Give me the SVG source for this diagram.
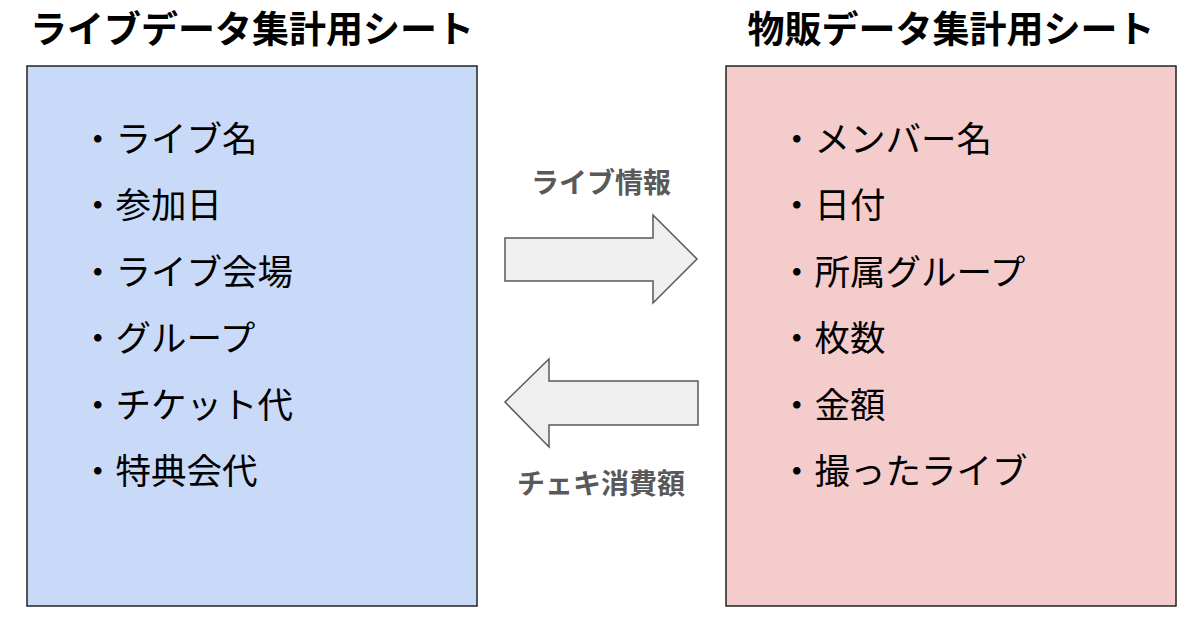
<svg xmlns="http://www.w3.org/2000/svg" width="1200" height="625" viewBox="0 0 1200 625">
<style>
.title{font-family:"Noto Sans CJK JP","Noto Sans",sans-serif;font-weight:bold;font-size:37px;fill:#000;text-anchor:middle}
.item{font-family:"Noto Sans CJK JP","Noto Sans",sans-serif;font-size:35.5px;fill:#000}
.lbl{font-family:"Noto Sans CJK JP","Noto Sans",sans-serif;font-weight:bold;font-size:28px;fill:#595959;text-anchor:middle}
.arrow{fill:#efefef;stroke:#595959;stroke-width:1.5}
</style>
<rect width="1200" height="625" fill="#fff"/>
<g id="live-sheet">
<text class="title" x="252" y="43">ライブデータ集計用シート</text>
<rect x="27" y="66" width="450" height="540" fill="#c9daf8" stroke="#222" stroke-width="1.5"/>
<text class="item" x="80" y="152">・ライブ名</text>
<text class="item" x="80" y="218">・参加日</text>
<text class="item" x="80" y="285">・ライブ会場</text>
<text class="item" x="80" y="351">・グループ</text>
<text class="item" x="80" y="418">・チケット代</text>
<text class="item" x="80" y="484">・特典会代</text>
</g>
<g id="goods-sheet">
<text class="title" x="951" y="43">物販データ集計用シート</text>
<rect x="726" y="66" width="450" height="540" fill="#f4cccc" stroke="#222" stroke-width="1.5"/>
<text class="item" x="779" y="152">・メンバー名</text>
<text class="item" x="779" y="218">・日付</text>
<text class="item" x="779" y="285">・所属グループ</text>
<text class="item" x="779" y="351">・枚数</text>
<text class="item" x="779" y="418">・金額</text>
<text class="item" x="779" y="484">・撮ったライブ</text>
</g>
<g id="connectors">
<text class="lbl" x="601" y="193">ライブ情報</text>
<polygon class="arrow" points="505,238 653,238 653,215 697,259 653,303 653,281 505,281"/>
<polygon class="arrow" points="698,381 549,381 549,359 505,402 549,447 549,425 698,425"/>
<text class="lbl" x="601" y="494">チェキ消費額</text>
</g>
</svg>
